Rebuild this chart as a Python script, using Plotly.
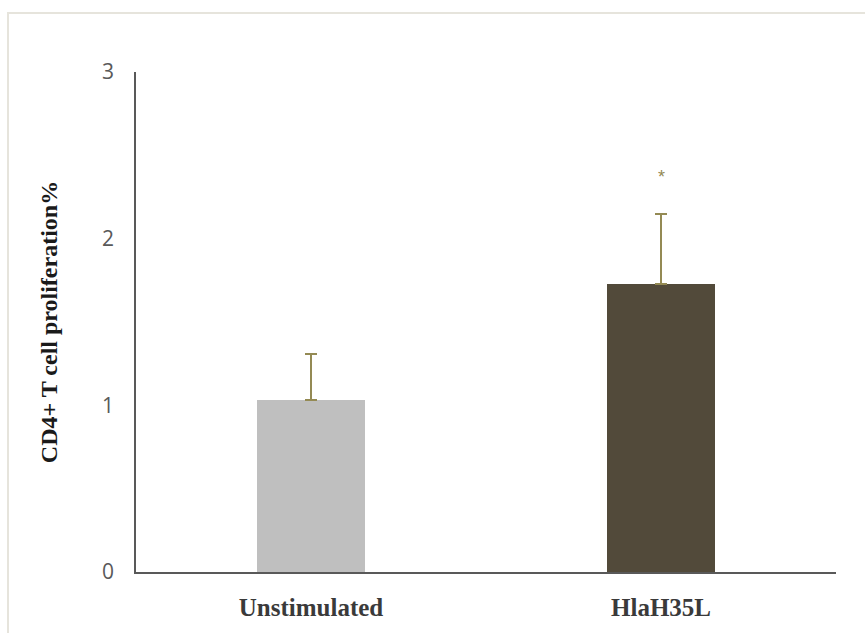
import plotly.graph_objects as go

# Proliferation data
categories = ["Unstimulated", "HlaH35L"]
means = [1.03, 1.73]
errors = [0.28, 0.42]
bar_colors = ["#BFBFBF", "#524A3A"]
significance = ["", "*"]
y_ticks = [0, 1, 2, 3]

W, H = 865, 633
x0, x1 = 136, 836   # plot area left/right in px
y0, y1 = 72, 572    # plot area top/bottom in px

fig = go.Figure()
fig.add_trace(go.Bar(
    x=categories,
    y=means,
    width=0.31,
    marker=dict(color=bar_colors, line=dict(width=0)),
    error_y=dict(type="data", array=errors, symmetric=False, arrayminus=[0, 0],
                 color="#948A54", thickness=2.2, width=6),
    showlegend=False,
))

# significance markers above the error bars
for c, m, e, s in zip(categories, means, errors, significance):
    if s:
        fig.add_annotation(x=c, y=m + e + 0.22, text=s, showarrow=False,
                           font=dict(family="Liberation Sans", size=18, color="#948A54"),
                           xref="x", yref="y")

# light outer frame
fig.add_shape(type="rect", xref="paper", yref="paper",
              x0=(8 - x0) / (x1 - x0), x1=(W + 5 - x0) / (x1 - x0),
              y0=(y1 - H - 10) / (y1 - y0), y1=(y1 - 13) / (y1 - y0),
              line=dict(color="#E6E4DC", width=2), layer="below")

fig.update_layout(
    width=W, height=H,
    margin=dict(l=x0, r=W - x1, t=y0, b=H - y1),
    paper_bgcolor="white", plot_bgcolor="white",
    bargap=0.0,
    xaxis=dict(
        showline=True, linecolor="#595959", linewidth=1.5,
        ticks="", showgrid=False, zeroline=False,
        tickvals=categories,
        ticktext=[f"<b>{c}</b>" for c in categories],
        tickfont=dict(family="Liberation Serif", size=25, color="#3A3A3A"),
        ticklabelstandoff=12,
        range=[-0.5, 1.5],
    ),
    yaxis=dict(
        range=[0, 3], tickvals=y_ticks,
        showline=True, linecolor="#595959", linewidth=1.5,
        ticks="", showgrid=False, zeroline=False,
        tickfont=dict(family="Open Sans", size=21, color="#595959"),
        ticklabelstandoff=16,
        title=dict(text="<b>CD4+ T cell proliferation%</b>",
                   font=dict(family="Liberation Serif", size=24, color="#1A1A1A"),
                   standoff=38),
    ),
)

fig.write_html("out.html")
